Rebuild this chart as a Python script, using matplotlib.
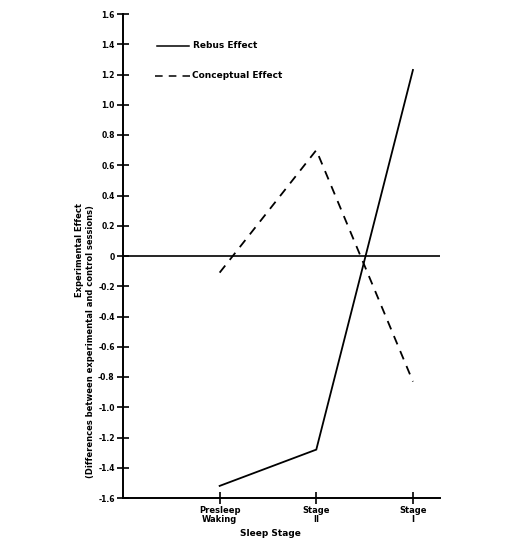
import matplotlib
matplotlib.use("Agg")
import matplotlib.pyplot as plt
from matplotlib.lines import Line2D

stages = ["Presleep\nWaking", "Stage\nII", "Stage\nI"]
rebus = [-1.52, -1.28, 1.23]
conceptual = [-0.11, 0.70, -0.83]
yticks = [1.6, 1.4, 1.2, 1.0, 0.8, 0.6, 0.4, 0.2, 0, -0.2, -0.4, -0.6, -0.8, -1.0, -1.2, -1.4, -1.6]
ytick_labels = ["1.6", "1.4", "1.2", "1.0", "0.8", "0.6", "0.4", "0.2", "0",
                "-0.2", "-0.4", "-0.6", "-0.8", "-1.0", "-1.2", "-1.4", "-1.6"]

fig = plt.figure(figsize=(5.24, 5.43), dpi=100)
ax = fig.add_axes([123/524, 45/543, 317/524, 484/543])

x = [1, 2, 3]
ax.plot(x, rebus, color="black", lw=1.3, solid_joinstyle="miter")
ax.plot(x, conceptual, color="black", lw=1.3, linestyle=(0, (5, 4)))
ax.axhline(0, color="black", lw=1.2)

ax.set_xlim(0.0, 3.28)
ax.set_ylim(-1.6, 1.6)
for s in ["top", "right"]:
    ax.spines[s].set_visible(False)
for s in ["left", "bottom"]:
    ax.spines[s].set_linewidth(1.4)

ax.set_yticks(yticks)
ax.set_yticklabels(ytick_labels, fontsize=5.5, fontweight="bold")
ax.set_xticks(x)
ax.set_xticklabels(stages, fontsize=6, fontweight="bold", linespacing=1.0)
ax.tick_params(axis="y", direction="inout", length=9, width=1.2, pad=1.5)
ax.tick_params(axis="x", direction="inout", length=9, width=1.2, pad=1.5)

fig.text(270/524, 1 - 533/543, "Sleep Stage", ha="center", va="center",
         fontsize=6.5, fontweight="bold")
fig.text(80/524, 1 - 250/543, "Experimental Effect", rotation=90,
         ha="center", va="center", fontsize=6, fontweight="bold")
fig.text(91/524, 1 - 342/543, "(Differences between experimental and control sessions)",
         rotation=90, ha="center", va="center", fontsize=6, fontweight="bold")

# legend drawn in axes fraction
ax.add_line(Line2D([(157-123)/317, (189-123)/317], [(498-46)/484]*2,
                   transform=ax.transAxes, color="black", lw=1.1))
ax.text((193-123)/317, (498-46)/484, "Rebus Effect", transform=ax.transAxes,
        ha="left", va="center", fontsize=6.5, fontweight="bold")
ax.add_line(Line2D([(155-123)/317, (190-123)/317], [(498-76)/484]*2,
                   transform=ax.transAxes, color="black", lw=1.1, linestyle=(0, (5, 4))))
ax.text((192-123)/317, (498-76)/484, "Conceptual Effect", transform=ax.transAxes,
        ha="left", va="center", fontsize=6.5, fontweight="bold")

fig.savefig("out.png", dpi=100)
